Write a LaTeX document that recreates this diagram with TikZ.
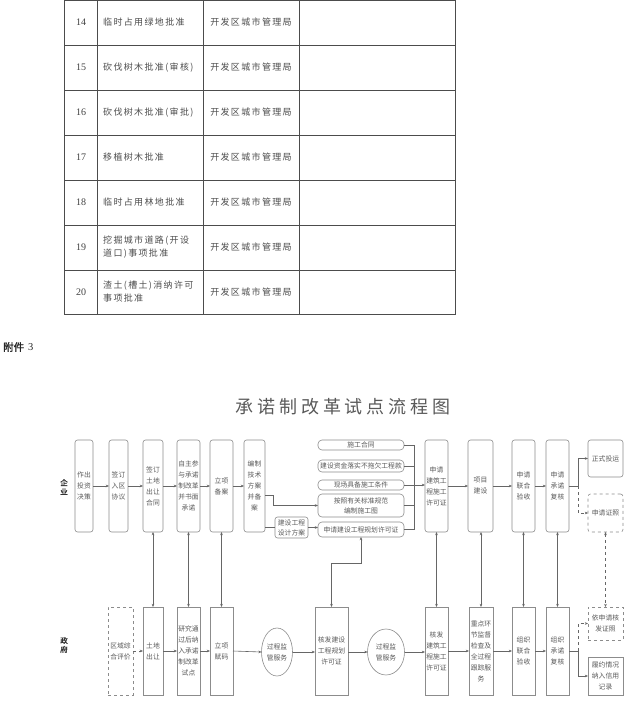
\documentclass[tikz,border=0pt]{standalone}
\usepackage{fontspec}
\setmainfont{Liberation Serif}
\newfontfamily\cjk{Noto Sans CJK SC}
\newfontfamily\cjkwide[LetterSpace=15]{Noto Sans CJK SC}
\newfontfamily\cjktitle[LetterSpace=22]{Noto Sans CJK SC}
\newfontfamily\cjkbold[FakeBold=1.5]{Noto Sans CJK SC}
\usetikzlibrary{arrows.meta,shapes.geometric}
\begin{document}
\begin{tikzpicture}[x=1pt,y=-1pt,
  tline/.style={draw=black!70, line width=0.8pt},
  ttext/.style={font=\cjkwide\fontsize{9}{13}\selectfont, text=black!70, inner sep=0pt, align=left},
  tnum/.style={font=\fontsize{10}{12}\selectfont, text=black!75, inner sep=0pt},
  sz/.style 2 args={minimum width=#1pt, minimum height=#2pt},
  gbox/.style={draw=black!45, line width=0.6pt, inner sep=0pt, outer sep=0pt, align=center,
    font=\cjk\fontsize{6.8}{11}\selectfont, text=black!65},
  fbox/.style={gbox, rounded corners=2.5pt},
  pbox/.style={gbox, rounded corners=4pt, font=\cjk\fontsize{6.8}{10}\selectfont},
  dbox/.style={gbox, dashed},
  ell/.style={gbox, ellipse},
  ln/.style={draw=black!60, line width=0.6pt},
  thk/.style={draw=black!60, line width=1.6pt},
  arr/.style={ln, -{Stealth[length=3.2pt,width=2.6pt]}},
  darr/.style={ln, {Stealth[length=3.2pt,width=2.6pt]}-{Stealth[length=3.2pt,width=2.6pt]}},
  lab/.style={font=\cjkbold\fontsize{7.5}{9}\selectfont, text=black!80, align=center, inner sep=0pt}
]
\useasboundingbox (0,0) rectangle (629,701);

% ---------- table ----------
\draw[tline] (64,0.5) rectangle (455,314);
\foreach \yy in {45,90,135,180,225,270} \draw[tline] (64,\yy) -- (455,\yy);
\foreach \xx in {97,203,299} \draw[tline] (\xx,0.5) -- (\xx,314);
\foreach \n/\yy/\txt in {14/22.5/临时占用绿地批准, 15/67.5/砍伐树木批准(审核), 16/112.5/砍伐树木批准(审批),
  17/157.5/移植树木批准, 18/202.5/临时占用林地批准, 19/247.5/{挖掘城市道路(开设\\道口)事项批准},
  20/292/{渣土(槽土)消纳许可\\事项批准}}{
  \node[tnum] (n\n) at (81,\yy) {\n};
  \node[ttext, anchor=west] (c\n) at (103,\yy) {\txt};
  \node[ttext] (o\n) at (251,\yy) {开发区城市管理局};
}

% ---------- heading ----------
\node[anchor=west, inner sep=0pt, font=\fontsize{10.5}{12}\selectfont, text=black!85] (att) at (3,347) {{\cjkbold 附件}\hspace{4pt}3};
\node[font=\cjktitle\fontsize{18}{20}\selectfont, text=black!65, inner sep=0pt] (title) at (343,407) {承诺制改革试点流程图};

% ---------- lane labels ----------
\node[lab] (qy) at (64,487) {企\\业};
\node[lab] (zf) at (64,645) {政\\府};

% ---------- top row ----------
\node[fbox, sz={18}{92}] (t1) at (84,486) {作出\\投资\\决策};
\node[fbox, sz={19}{92}] (t2) at (118.5,486) {签订\\入区\\协议};
\node[fbox, sz={20}{92}] (t3) at (153,486) {签订\\土地\\出让\\合同};
\node[fbox, sz={23}{92}] (t4) at (188.5,486) {自主参\\与承诺\\制改革\\并书面\\承诺};
\node[fbox, sz={23}{92}] (t5) at (221.5,486) {立项\\备案};
\node[fbox, sz={21}{92}] (t6) at (254.5,486) {编制\\技术\\方案\\并备\\案};
\node[fbox, sz={23}{92}] (t7) at (436.5,486) {申请\\建筑工\\程施工\\许可证};
\node[fbox, sz={25}{92}] (t8) at (480.5,486) {项目\\建设};
\node[fbox, sz={23}{92}] (t9) at (523.5,486) {申请\\联合\\验收};
\node[fbox, sz={23}{92}] (t10) at (557.5,486) {申请\\承诺\\复核};
\node[fbox, sz={35}{37}] (z1) at (605.5,458.5) {正式投运};
\node[fbox, dashed, sz={35}{38}] (z2) at (605.5,513) {申请证照};

% small boxes
\node[pbox, sz={86}{10}] (s1) at (361,445) {施工合同};
\node[pbox, sz={86}{12}] (s2) at (361,466) {建设资金落实不拖欠工程款};
\node[pbox, sz={86}{10}] (s3) at (361,485) {现场具备施工条件};
\node[pbox, sz={86}{23}] (s4) at (361,505.5) {按照有关标准规范\\编制施工图};
\node[pbox, sz={86}{15}] (s5) at (361,529.5) {申请建设工程规划许可证};
\node[fbox, sz={33}{21}, font=\cjk\fontsize{6.8}{10}\selectfont] (d) at (291.5,527.5) {建设工程\\设计方案};

% ---------- bottom row ----------
\node[dbox, sz={25}{88}] (b0) at (120.5,651) {区域综\\合评价};
\node[gbox, sz={20}{88}] (b1) at (153,651) {土地\\出让};
\node[gbox, sz={23}{88}] (b2) at (188.5,651) {研究通\\过后纳\\入承诺\\制改革\\试点};
\node[gbox, sz={23}{88}] (b3) at (221.5,651) {立项\\赋码};
\node[ell, sz={31}{48}] (e1) at (277,652) {过程监\\管服务};
\node[gbox, sz={33}{88}] (b4) at (331.5,651) {核发建设\\工程规划\\许可证};
\node[ell, sz={37}{46}] (e2) at (386,652) {过程监\\管服务};
\node[gbox, sz={23}{88}] (b5) at (436.5,651) {核发\\建筑工\\程施工\\许可证};
\node[gbox, sz={24}{88}] (b6) at (481,651) {重点环\\节监督\\检查及\\全过程\\跟踪服\\务};
\node[gbox, sz={23}{88}] (b7) at (523.5,651) {组织\\联合\\验收};
\node[gbox, sz={23}{88}] (b8) at (557.5,651) {组织\\承诺\\复核};
\node[dbox, sz={35}{33}] (b9) at (605.5,623.5) {依申请核\\发证照};
\node[gbox, sz={35}{38}] (b10) at (605.5,676) {履约情况\\纳入信用\\记录};

% ---------- connectors: top ----------
\draw[arr] (t1) -- (t2);
\draw[arr] (t2) -- (t3);
\draw[arr] (t3) -- (t4);
\draw[arr] (t4) -- (t5);
\draw[arr] (t5) -- (t6);
\draw[arr] (t7) -- (t8);
\draw[arr] (t8) -- (t9);
\draw[arr] (t9) -- (t10);
\coordinate (j1) at (578,486);
\draw[ln] (t10.east) -- (j1);
\draw[arr] (j1) |- (z1.west);
\draw[arr, dashed] (j1) |- (z2.west);

\coordinate (k1) at (273,495);
\draw[arr] (t6.east |- k1) -- (k1) |- (s4.west);
\draw[thk] (t6.east |- d.west) -- (d.west);
\draw[arr] (d.east) -- (d.east -| s5.west);
\coordinate (bt) at (414,445);
\coordinate (bb) at (414,529.5);
\draw[ln] (s1.east) -- (bt) -- (bb);
\draw[ln] (s2.east) -- (s2.east -| bt);
\draw[ln] (s3.east) -- (s3.east -| bt);
\draw[ln] (s4.east) -- (s4.east -| bt);
\draw[thk] (s5.east) -- (bb);
\draw[arr] (s3.east -| bt) -- (s3.east -| t7.west);

% ---------- connectors: bottom ----------
\draw[arr, dashed] (b0) -- (b1);
\draw[arr] (b1) -- (b2);
\draw[arr] (b2) -- (b3);
\draw[arr] (b3.east) -- (e1.west);
\draw[arr] (e1.east) -- (b4.west |- e1.east);
\draw[arr] (b4.east |- e2.west) -- (e2.west);
\draw[arr] (e2.east) -- (b5.west |- e2.east);
\draw[arr] (b5) -- (b6);
\draw[arr] (b6) -- (b7);
\draw[arr] (b7) -- (b8);
\coordinate (j2) at (578,651);
\draw[ln] (b8.east) -- (j2);
\draw[arr, dashed] (j2) |- (b9.west);
\draw[arr] (j2) |- (b10.west);

% ---------- vertical links ----------
\draw[darr] (t3) -- (b1);
\draw[darr] (t4) -- (b2);
\draw[darr] (t5) -- (b3);
\draw[darr] (t7) -- (b5);
\draw[darr] (t8.south -| b6.north) -- (b6.north);
\draw[darr] (t9) -- (b7);
\draw[darr] (t10) -- (b8);
\draw[darr, dashed] (z2) -- (b9);
\coordinate (m1) at (361,563);
\draw[darr] (s5.south) -- (m1) -| (b4.north);
\end{tikzpicture}
\end{document}
